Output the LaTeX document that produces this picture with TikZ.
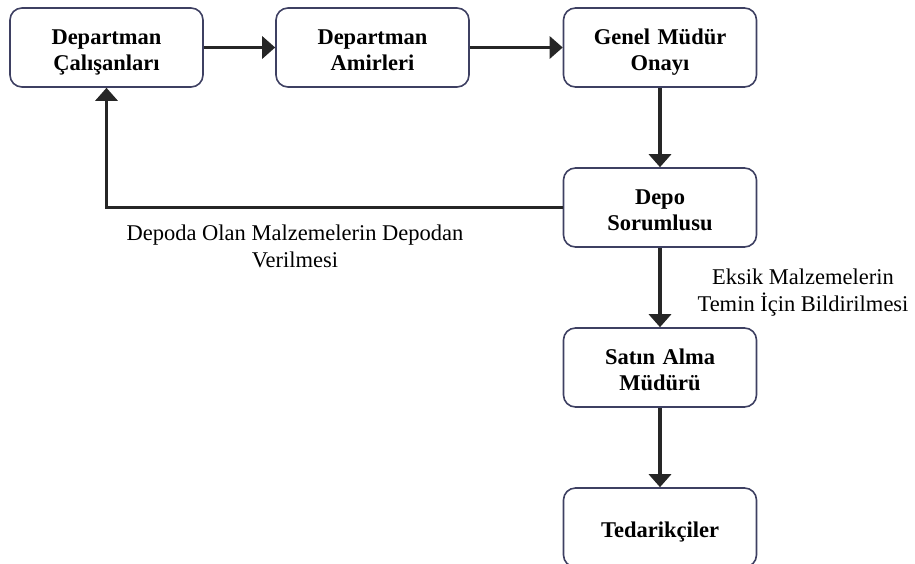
\documentclass[tikz,border=0pt]{standalone}
\usepackage{fontspec}
\setmainfont{Liberation Serif}
\usepackage{xcolor}
\usetikzlibrary{arrows.meta}
\definecolor{boxline}{RGB}{62,64,98}

\begin{document}
\begin{tikzpicture}[x=1pt,y=1pt]
    \def\ox{330}
    \def\oy{-23.75}
    \def\ry{80}

    \useasboundingbox (0,0) rectangle (457.5,-281.5);

    \tikzstyle{stage}=[draw=boxline,line width=0.8pt,rounded corners=6pt,minimum width=96.5pt,minimum height=39.5pt,inner sep=0pt,text width=90pt,align=center,font=\fontsize{11.25}{12.8}\selectfont\bfseries,execute at begin node=\rule{0pt}{14pt},execute at end node=\strut]
    \tikzstyle{note}=[align=center,font=\fontsize{11.25}{13.5}\selectfont]

    \node[stage] (calisan) at (53.25,\oy) {Departman\\Çalışanları};
    \node[stage] (amir) at (186.25,\oy) {Departman\\Amirleri};
    \node[stage] (onay) at (\ox,\oy) {Genel Müdür\\Onayı};

    \node[stage] (depo) at (\ox,\oy-1*\ry) {Depo\\Sorumlusu};
    \node[stage] (satin) at (\ox,\oy-2*\ry) {Satın Alma\\Müdürü};
    \node[stage] (tedarik) at (\ox,\oy-3*\ry) {Tedarikçiler};

    \node[note] (verilme) at (147.5,-123.25) {Depoda Olan Malzemelerin Depodan\\Verilmesi};
    \node[note] (eksik) at (401.5,-146.25) {Eksik Malzemelerin\\Temin İçin Bildirilmesi};

    \tikzstyle{fwd} = [draw=black!85, line width=1.6pt, -{Triangle[width=11pt,length=6.5pt]}]

    \draw [fwd] (calisan) -- (amir);
    \draw [fwd] (amir) -- (onay);
    \draw [fwd] (onay) -- (depo);
    \draw [fwd] (depo.west) -| (calisan.south);
    \draw [fwd] (depo) -- (satin);
    \draw [fwd] (satin) -- (tedarik);

\end{tikzpicture}
\end{document}
